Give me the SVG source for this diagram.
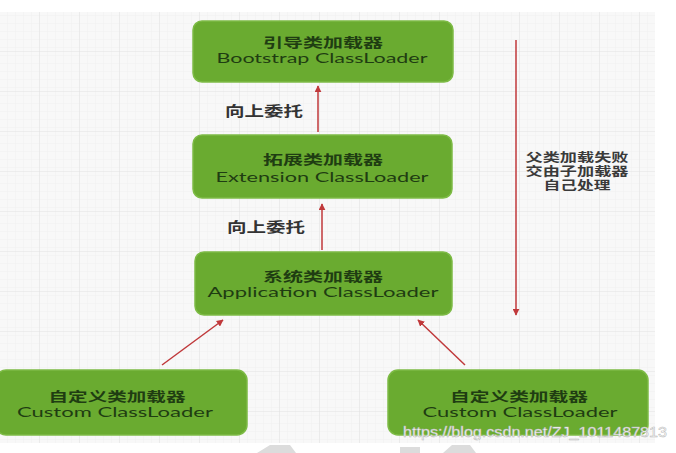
<svg xmlns="http://www.w3.org/2000/svg" width="676" height="453" viewBox="0 0 676 453">
<defs>
<pattern id="minor" width="8" height="8" patternUnits="userSpaceOnUse">
<path d="M8 0V8M0 8H8" fill="none" stroke="#ececec" stroke-width="0.6"/>
</pattern>
<pattern id="major" width="40" height="40" patternUnits="userSpaceOnUse" x="0" y="12">
<path d="M40 0V40M0 40H40" fill="none" stroke="#e2e2e2" stroke-width="1"/>
</pattern>
<marker id="ah" viewBox="0 0 10 10" refX="9" refY="5" markerWidth="7" markerHeight="7" orient="auto-start-reverse" markerUnits="userSpaceOnUse">
<path d="M0 0L10 5L0 10Z" fill="#c0393b"/>
</marker>
</defs>
<style>
.box{fill:#6aab30;stroke:#7dbb45;stroke-width:1.5}
.t{text-anchor:middle;fill:#1f3d12}
.cn{font-family:"Noto Sans CJK SC","Noto Sans",sans-serif;font-size:13px;font-weight:bold}
.en{font-family:"Lato","Noto Sans",sans-serif;font-size:14px;font-weight:normal}
.lbl{font-family:"Noto Sans CJK SC","Noto Sans",sans-serif;font-size:14px;fill:#333;font-weight:bold}
.note{font-family:"Noto Sans CJK SC","Noto Sans",sans-serif;font-size:12px;fill:#3a3a3a;text-anchor:middle;font-weight:bold}
.arr{stroke:#c0393b;stroke-width:1.5;fill:none;marker-end:url(#ah)}
</style>
<rect width="676" height="453" fill="#ffffff"/>
<rect x="0" y="12" width="655" height="431" fill="#f8f8f8"/>
<rect x="0" y="12" width="655" height="431" fill="url(#minor)"/>
<rect x="0" y="12" width="655" height="431" fill="url(#major)"/>
<g id="watermark-shapes" fill="#dcdcdc">
<polygon points="257,453 270,445 290,445 296,453"/>
<polygon points="400,447 420,447 420,453 400,453"/>
<polygon points="443,453 452,445 470,445 476,453"/>
</g>
<g id="connectors">
<line class="arr" x1="318" y1="132" x2="318" y2="86"/>
<line class="arr" x1="322" y1="250" x2="322" y2="204"/>
<line class="arr" x1="516" y1="40" x2="516" y2="315"/>
<line class="arr" x1="162" y1="365" x2="223" y2="320"/>
<line class="arr" x1="465" y1="365" x2="418" y2="320"/>
<text class="lbl" x="225" y="116" textLength="78" lengthAdjust="spacingAndGlyphs">向上委托</text>
<text class="lbl" x="227" y="232" textLength="78" lengthAdjust="spacingAndGlyphs">向上委托</text>
<text class="note"><tspan x="577" y="162" textLength="103" lengthAdjust="spacingAndGlyphs">父类加载失败</tspan><tspan x="577" y="176" textLength="103" lengthAdjust="spacingAndGlyphs">交由子加载器</tspan><tspan x="577" y="190" textLength="67" lengthAdjust="spacingAndGlyphs">自己处理</tspan></text>
</g>
<g id="bootstrap">
<rect class="box" x="193" y="21" width="260" height="61" rx="9"/>
<text class="t"><tspan class="cn" x="323" y="47" textLength="120" lengthAdjust="spacingAndGlyphs">引导类加载器</tspan><tspan class="en" x="322" y="63" textLength="211" lengthAdjust="spacingAndGlyphs">Bootstrap ClassLoader</tspan></text>
</g>
<g id="extension">
<rect class="box" x="193" y="135" width="259" height="63" rx="9"/>
<text class="t"><tspan class="cn" x="323" y="164" textLength="120" lengthAdjust="spacingAndGlyphs">拓展类加载器</tspan><tspan class="en" x="322" y="182" textLength="213" lengthAdjust="spacingAndGlyphs">Extension ClassLoader</tspan></text>
</g>
<g id="application">
<rect class="box" x="195" y="252" width="257" height="63" rx="9"/>
<text class="t"><tspan class="cn" x="323" y="281" textLength="120" lengthAdjust="spacingAndGlyphs">系统类加载器</tspan><tspan class="en" x="323" y="297" textLength="231" lengthAdjust="spacingAndGlyphs">Application ClassLoader</tspan></text>
</g>
<g id="custom-left">
<rect class="box" x="-4" y="370" width="251" height="65" rx="10"/>
<text class="t"><tspan class="cn" x="117" y="401" textLength="137" lengthAdjust="spacingAndGlyphs">自定义类加载器</tspan><tspan class="en" x="115" y="417" textLength="196" lengthAdjust="spacingAndGlyphs">Custom ClassLoader</tspan></text>
</g>
<g id="custom-right">
<rect class="box" x="388" y="370" width="260" height="65" rx="10"/>
<text class="t"><tspan class="cn" x="519" y="401" textLength="138" lengthAdjust="spacingAndGlyphs">自定义类加载器</tspan><tspan class="en" x="520" y="417" textLength="195" lengthAdjust="spacingAndGlyphs">Custom ClassLoader</tspan></text>
</g>
<text x="403" y="437" textLength="264" lengthAdjust="spacingAndGlyphs" font-family="Liberation Sans, Arial, sans-serif" font-size="14" fill="#ffffff" stroke="#b8b8b8" stroke-width="0.5">https://blog.csdn.net/ZJ_1011487813</text>
</svg>
